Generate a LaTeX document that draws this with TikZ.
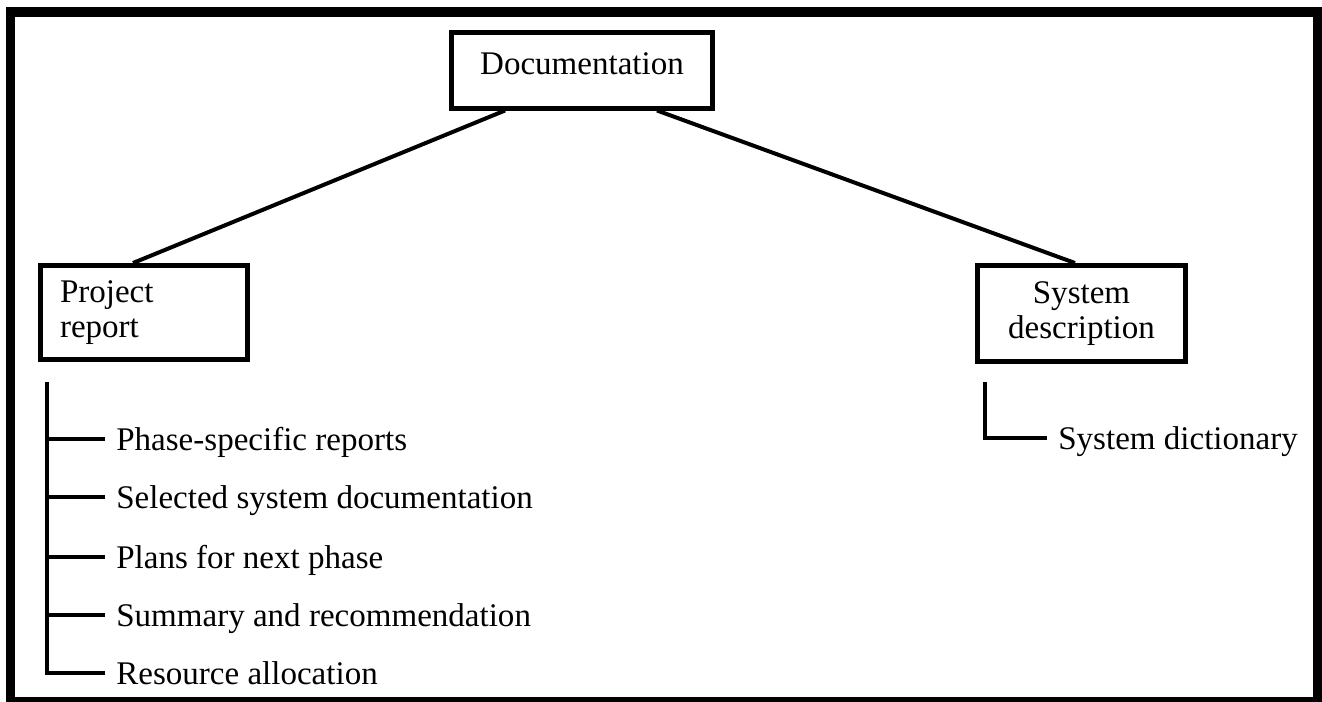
\documentclass[tikz,border=0pt]{standalone}
\usepackage{fontspec}
\setmainfont{Liberation Serif}
\begin{document}
\begin{tikzpicture}[x=0.02cm,y=-0.02cm,
  every node/.style={font=\fontsize{18.8}{19.9}\selectfont},
  box/.style={draw,line width=0.1cm,inner sep=0pt,minimum width=4.16cm,minimum height=1.88cm},
  lbl/.style={anchor=west,inner xsep=0.22cm,inner ysep=0pt,text height=0.44cm,text depth=0pt},
  br/.style={line width=0.09cm},
  lnk/.style={line width=0.08cm}]
\useasboundingbox (0,0) rectangle (1322,701);
\draw[line width=0.2cm] (10.5,12) rectangle (1318,702);
\node[box,minimum width=5.24cm,minimum height=1.52cm,text depth=0.25cm] (doc) at (582,70) {Documentation};
\node[box,text width=3.36cm,align=left] (proj) at (144,312.5) {Project\\report};
\node[box,minimum height=1.92cm,align=center] (sys) at (1081.5,313.5) {System\\description};
\draw[lnk] ([xshift=-1.54cm]doc.south) -- ([xshift=-0.22cm]proj.north);
\draw[lnk] ([xshift=1.5cm]doc.south) -- ([xshift=-0.13cm]sys.north);
\coordinate (ptop) at (47,382);
\foreach \y/\1 [count=\i] in %
{439/Phase-specific reports,497/Selected system documentation,557/Plans for next phase,615/Summary and recommendation,673/Resource allocation} {
   \node[lbl] (p\i) at (105,\y) {\1};
   \draw[br] (ptop |- p\i.west) -- (p\i.west);
}
\draw[br] (ptop) |- (p5.west);
\coordinate (stop) at (985,382);
\node[lbl] (s1) at (1047,438) {System dictionary};
\draw[br] (stop) |- (s1.west);
\end{tikzpicture}
\end{document}
